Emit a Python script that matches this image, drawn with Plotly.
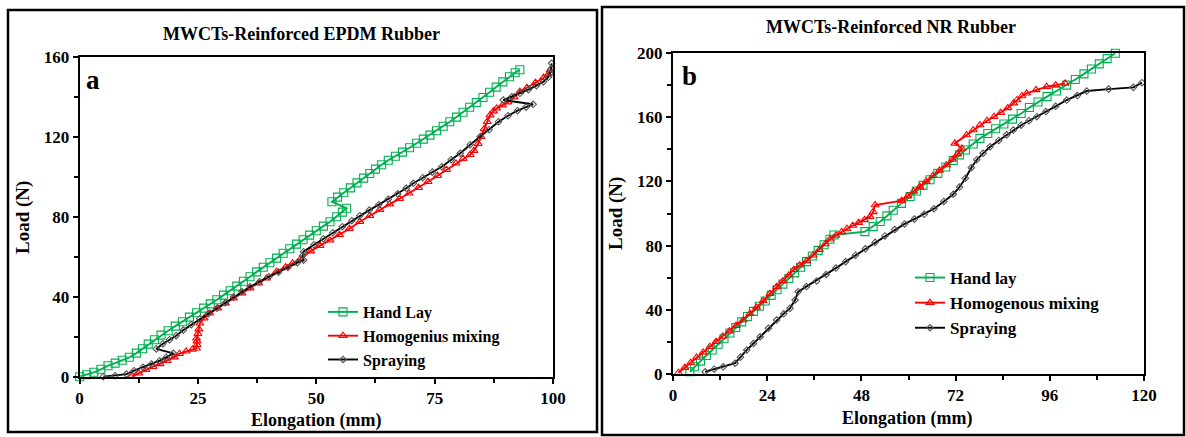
import plotly.graph_objects as go

# ---------------- Panel a: EPDM ----------------
a_hand_x = [0, 1.5, 3, 4.5, 6, 7.5, 9, 10.5, 12, 13.3, 14.5, 15.8, 17.2, 18.7, 20.2, 21.7, 23.2, 24.7, 26.2, 27.6,
            29, 30.4, 31.8, 33.2, 34.6, 36, 37.4, 38.8, 40.2, 41.6, 43, 44.4, 45.8, 47.2, 48.6, 50, 51.5, 52.9, 54.3, 55.5,
            56.4, 53.3, 54.5, 55.8, 57.2, 58.6, 60, 61.3, 62.5, 63.8, 65.2, 66.7, 68.2, 69.7, 71.2, 72.6, 74, 75.4, 76.8,
            78.2, 79.6, 81, 82.4, 83.8, 85.2, 86.6, 88, 89.4, 90.8, 92, 93]
a_hand_y = [0, 1, 2.2, 3.7, 5.5, 6.8, 8.2, 9.7, 11.8, 14, 16.3, 18.5, 20.8, 23, 25.3, 27.5, 29.8, 32, 34.3, 36.4,
            38.5, 40.8, 43, 45.3, 47.7, 50, 52.4, 54.7, 57, 59.3, 61.7, 64, 66.3, 68.5, 70.8, 73, 75.3, 77.5, 80, 82.3,
            84.2, 87.5, 89.8, 92, 94.4, 96.9, 99.3, 101.6, 103.8, 106, 108.2, 110.2, 112.3, 114.5, 116.7, 118.8, 120.8, 123, 125.2,
            127.5, 129.8, 132.2, 134.7, 137.1, 139.6, 142.2, 144.8, 147.4, 150, 152, 153.5]

a_homo_x = [11, 12.5, 14, 15.5, 17, 18.5, 20, 21.1, 22.5, 23.8, 24.7, 24.8, 24.8, 24.7, 25, 25.2, 25.4, 26.3, 27.5, 29.2,
            30.8, 32.5, 34.3, 36, 37.8, 39.5, 41.6, 43.5, 45, 46.6, 48.8, 50.8, 52.9, 54.9, 57, 59.2, 61.3, 63.4, 65.5,
            67.6, 69.6, 71.6, 73.6, 75.6, 77.5, 79.5, 81, 82.5, 83.3, 84.2, 84.8, 85.5, 86.1, 86.7, 87.4, 88.1, 89.3, 90.5,
            91.8, 93, 94.5, 96.3, 98, 99, 99.4]
a_homo_y = [0, 1.7, 3.5, 5, 6.4, 8, 9.8, 11.5, 12.7, 13.6, 14.2, 16, 17.8, 19.2, 21.5, 23.8, 26.7, 29.3, 31.7, 34.3,
            36.8, 39.2, 41.8, 44.3, 46.8, 49.2, 52.5, 54.8, 56.8, 58.8, 62.8, 65.5, 68.2, 71, 74, 77.5, 80.5, 83.5, 86.3,
            89, 91.7, 94.5, 97.5, 100.5, 103.5, 106.7, 109, 111, 113, 116.5, 120, 124, 127.5, 130.8, 132.8, 134.2, 135.8, 137.3,
            139.8, 142.5, 144.5, 147, 149.5, 151.2, 153.3]

a_spray_x = [5, 7.5, 9.9, 11.5, 13.4, 15.2, 16.9, 18.3, 19.8, 16.2, 17.6, 19, 20.4, 21.9, 23.6, 25.4, 27.2, 29, 30.8,
             32.5, 34.3, 36, 38, 40, 42, 44, 46, 47.3, 47.1, 47.3, 49.5, 51.5, 53.5, 55.5, 57.5, 59.2, 61.2, 63.2, 65.2,
             67.2, 69, 70.5, 72.5, 74.5, 76.5, 78.5, 80.4, 82.5, 84.6, 86.5, 88.5, 90.5, 92.5, 94.3, 95.8, 89.5, 91.3, 93,
             94.8, 96.5, 98, 99, 99.4, 99.6, 99.7]
a_spray_y = [0, 0.5, 1.3, 3, 4.7, 6.3, 8, 9.7, 11.7, 13.9, 16.5, 18.5, 20.5, 23.3, 26, 29, 31.5, 34.2, 37,
             39.8, 42.5, 45, 47.5, 50, 52.3, 54.6, 57, 58.3, 60.5, 62.5, 66, 69, 72, 75, 78, 80.5, 83.3, 86, 88.7,
             91.4, 94.2, 96.7, 99.5, 102.3, 105, 108.5, 111.7, 116, 120, 123.5, 127.5, 130.5, 133, 134.8, 136.2, 138.3, 140, 141.7,
             143.5, 145.5, 147.5, 149.7, 151.7, 154, 156.7]

# ---------------- Panel b: NR ----------------
b_hand_x = [4.3, 5.5, 7, 8.5, 10, 11.5, 13, 14.5, 16, 17.5, 19, 20.5, 22, 23.5, 25, 26.5, 28, 29.5, 31, 32.5, 34,
            35.5, 37, 38.5, 40, 41, 48.9, 51, 52.8, 54.5, 56.1, 58.2, 60.4, 62, 63.7, 65.5, 67.5, 69.5, 71.4, 73, 74.5,
            76.5, 78.2, 80.2, 82.2, 84.3, 86.5, 88.7, 90.8, 93, 95.3, 97.7, 100.3, 102.5, 104.7, 106.6, 108.6, 110.6, 112.7]
b_hand_y = [1.4, 4.5, 8, 11.5, 15, 18.5, 22, 25.5, 29, 32.5, 35.8, 39, 42.2, 45.5, 49, 52.5, 56, 59.5, 63, 66.5, 70,
            73.5, 77, 80.5, 84, 86.6, 88.7, 91.8, 95, 98.5, 102, 106.3, 110.5, 114, 117.5, 121, 125, 129, 133, 136.5, 139.6,
            143.3, 146.8, 149.8, 152.8, 155.8, 158.8, 162.3, 166, 169.5, 172.8, 176.3, 180, 183.5, 187, 190, 193.2, 196.5, 199.8]

b_homo_x = [1.4, 3, 4.5, 6, 7.7, 9.4, 11, 12.7, 14.4, 16.1, 17.9, 19.6, 21.3, 23, 24.7, 26.4, 28, 29.5, 30.8, 32.3,
            34, 35.7, 37.3, 38.8, 40, 41.5, 43, 44.3, 45.8, 47.3, 48.8, 50.2, 51, 51.5, 58.3, 59.8, 61.3, 62.9, 64.5,
            66.2, 67.9, 69.7, 71.2, 72.5, 73.6, 71.8, 74.8, 76.5, 78.2, 80, 81.8, 83.5, 85.3, 86.8, 87.6, 88.9, 90.1,
            92.5, 95.2, 97.5, 99.9]
b_homo_y = [0.8, 4, 7, 10.3, 13.5, 17, 20.2, 23.4, 26.7, 30.1, 33.6, 37.6, 41.5, 45.6, 50, 54.4, 58, 61.5, 65, 67.8,
            70.5, 74, 77.5, 81, 84, 86.3, 88.5, 90.5, 92.5, 94.3, 96, 98, 101, 105.3, 108, 110.8, 113.8, 116.7, 120,
            123.5, 126.8, 130.2, 133.6, 137, 140.6, 143.7, 148.9, 152, 155.1, 157.8, 160.3, 162.8, 165.8, 168.8, 170.7, 173.2, 174.9,
            177, 179, 180, 181.1]

b_spray_x = [8.2, 10.5, 12.8, 15.8, 17.2, 18.8, 20.5, 22.2, 24.3, 26.4, 28.2, 29.8, 31.1, 31.9, 34, 36.6, 39, 41.5,
             44, 46.5, 49, 51.5, 54, 56.5, 59, 61.5, 64, 66.5, 69, 71.4, 73, 74.5, 76, 77.4, 79, 80.8, 83, 85, 86.7,
             88.7, 90.7, 92.7, 95, 97.5, 100.3, 103, 105.4, 111, 117.3, 119.5]
b_spray_y = [1.4, 3, 4.5, 6.7, 10.5, 15, 19, 23.2, 28.5, 33.6, 37.5, 40.9, 46.1, 51.3, 54.5, 58, 62, 66,
             70, 74, 78, 82, 86, 90, 93.5, 96.5, 99.5, 103, 107.5, 112, 116.5, 122, 128.5, 133.5, 137.5, 141.6, 145.5, 149, 152,
             155, 157.8, 160.3, 163.5, 166.8, 170.7, 173.5, 176.3, 177.5, 178.6, 181.5]

a_ticks = [0, 25, 50, 75, 100]
a_yticks = [0, 40, 80, 120, 160]
b_ticks = [0, 24, 48, 72, 96, 120]
b_yticks = [0, 40, 80, 120, 160, 200]

a_names = ["Hand Lay", "Homogenius mixing", "Spraying"]
b_names = ["Hand lay", "Homogenous mixing", "Spraying"]

GREEN = "#00B050"
RED = "#FF0000"
BLACK = "#000000"
FONT = "Liberation Serif, Times New Roman, serif"

W, H = 1186, 437

def px(x):
    return x / W

def py(y):
    return 1 - y / H

fig = go.Figure()

def add_series(xs, ys, name, color, symbol, size, mcolor, xa, ya, leg):
    fig.add_trace(go.Scatter(
        x=xs, y=ys, name=name, mode="lines+markers",
        line=dict(color=color, width=1.9),
        marker=dict(symbol=symbol, size=size, color=mcolor, line=dict(width=1.1, color=mcolor)),
        xaxis=xa, yaxis=ya, legend=leg, cliponaxis=False,
    ))

add_series(a_hand_x, a_hand_y, a_names[0], GREEN, "square-open", 8, GREEN, "x", "y", "legend")
add_series(a_homo_x, a_homo_y, a_names[1], RED, "triangle-up-open", 7, RED, "x", "y", "legend")
add_series(a_spray_x, a_spray_y, a_names[2], BLACK, "diamond-open", 5, "#555555", "x", "y", "legend")

add_series(b_hand_x, b_hand_y, b_names[0], GREEN, "square-open", 8, GREEN, "x2", "y2", "legend2")
add_series(b_homo_x, b_homo_y, b_names[1], RED, "triangle-up-open", 7, RED, "x2", "y2", "legend2")
add_series(b_spray_x, b_spray_y, b_names[2], BLACK, "diamond-open", 5, "#555555", "x2", "y2", "legend2")

tickfont = dict(family=FONT, size=17, color="black", weight="bold")
common = dict(showline=True, linecolor="black", linewidth=2, mirror=True, showgrid=False, zeroline=False,
              ticks="outside", ticklen=5, tickwidth=1.5, tickcolor="black", tickfont=tickfont, automargin=False)

fig.update_layout(
    width=W, height=H, margin=dict(l=0, r=0, t=0, b=0, autoexpand=False),
    paper_bgcolor="white", plot_bgcolor="white", showlegend=True,
    xaxis=dict(domain=[px(79.6), px(553)], range=[0, 100], tickvals=a_ticks, anchor="y",
               minor=dict(dtick=12.5, ticks="outside", ticklen=4, tickcolor="black", tickwidth=1.5), **common),
    yaxis=dict(domain=[py(376.7), py(56.7)], range=[0, 160], tickvals=a_yticks, anchor="x",
               minor=dict(dtick=20, ticks="outside", ticklen=4, tickcolor="black", tickwidth=1.5), **common),
    xaxis2=dict(domain=[px(673), px(1144)], range=[0, 120], tickvals=b_ticks, anchor="y2",
                minor=dict(dtick=12, ticks="outside", ticklen=4, tickcolor="black", tickwidth=1.5), **common),
    yaxis2=dict(domain=[py(374), py(53)], range=[0, 200], tickvals=b_yticks, anchor="x2",
                minor=dict(dtick=20, ticks="outside", ticklen=4, tickcolor="black", tickwidth=1.5), **common),
    legend=dict(x=px(323), y=py(295), xanchor="left", yanchor="top", bgcolor="rgba(0,0,0,0)",
                font=dict(family=FONT, size=16, color="black", weight="bold"), tracegroupgap=0),
    legend2=dict(x=px(910), y=py(260), xanchor="left", yanchor="top", bgcolor="rgba(0,0,0,0)",
                 font=dict(family=FONT, size=17, color="black", weight="bold"), tracegroupgap=0),
)

def ann(text, x, y, size, angle=0):
    fig.add_annotation(text=text, x=px(x), y=py(y), xref="paper", yref="paper", showarrow=False,
                       textangle=angle, xanchor="center", yanchor="middle",
                       font=dict(family=FONT, size=size, color="black", weight="bold"))

ann("MWCTs-Reinforced EPDM Rubber", 302, 34, 18)
ann("MWCTs-Reinforced NR Rubber", 891, 27, 18)
ann("Elongation (mm)", 316, 420, 18)
ann("Elongation (mm)", 907, 418, 18)
ann("Load (N)", 23, 218, 19, -90)
ann("Load (N)", 616, 214, 19, -90)
ann("a", 93, 80, 27)
ann("b", 689, 76, 27)

# panel frames
fig.add_shape(type="rect", xref="paper", yref="paper", x0=px(8), x1=px(597), y0=py(432), y1=py(10),
              line=dict(color="black", width=2.5))
fig.add_shape(type="rect", xref="paper", yref="paper", x0=px(602), x1=px(1184), y0=py(435), y1=py(7),
              line=dict(color="black", width=2.5))

page_js = ("document.documentElement.style.margin='0';document.body.style.margin='0';"
           "document.body.style.padding='0';document.body.style.overflow='hidden';"
           "document.documentElement.style.overflow='hidden';")

fig.write_html("out.html", post_script=page_js, config={"displayModeBar": False})
